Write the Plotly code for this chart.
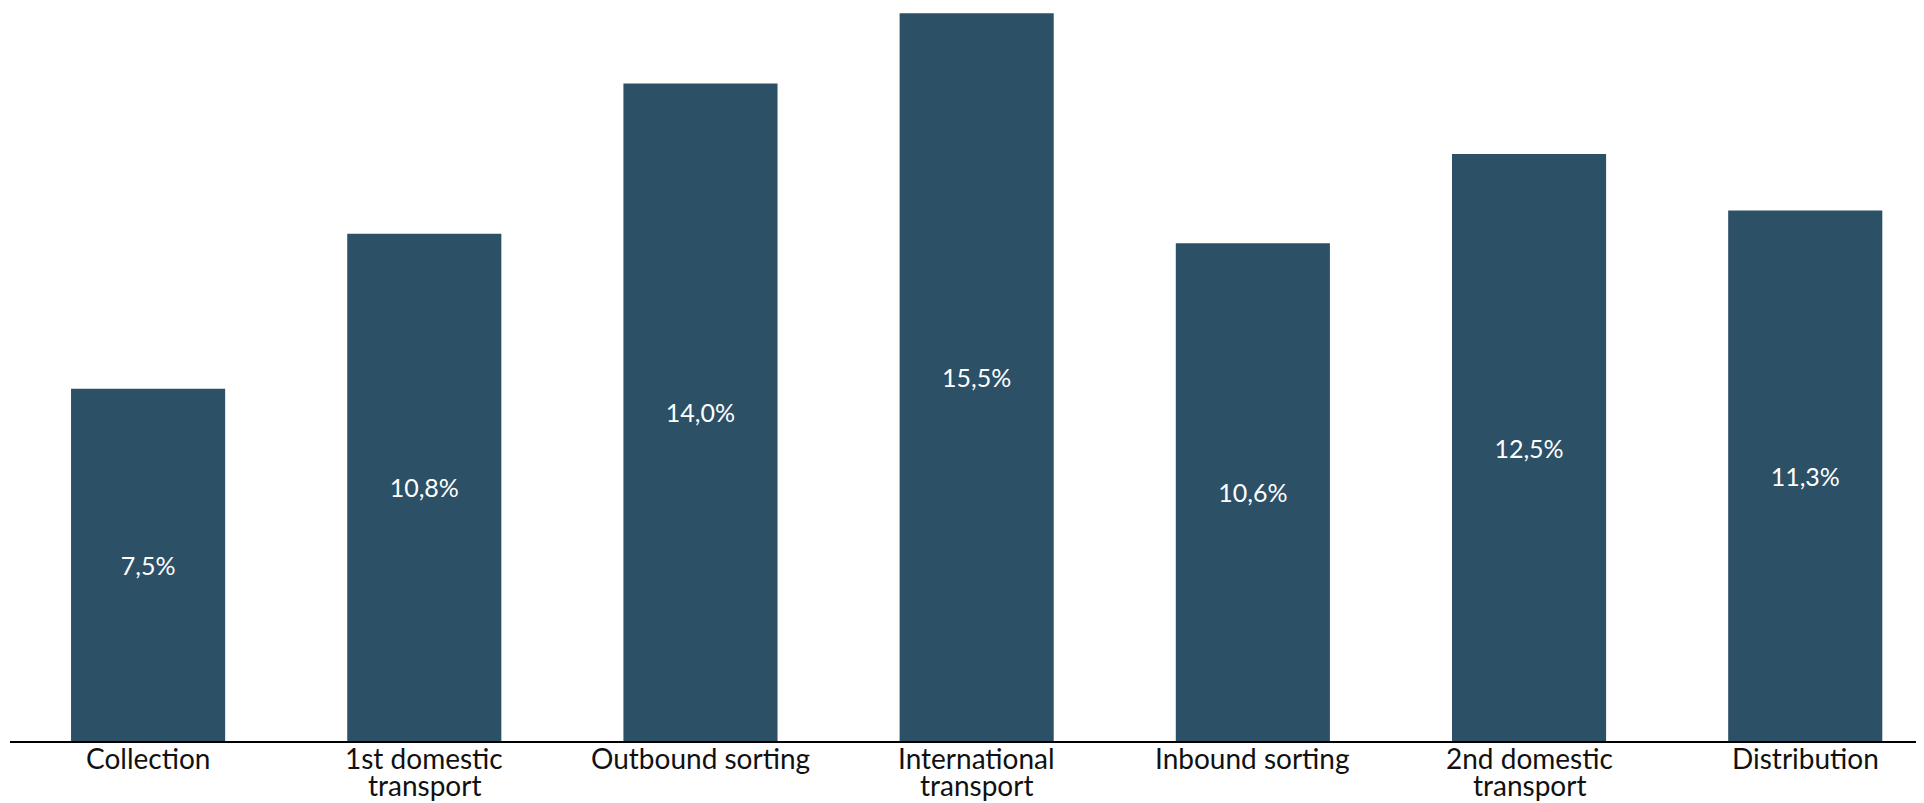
import plotly.graph_objects as go

# dados
categories = ["Collection", "1st domestic transport", "Outbound sorting",
              "International transport", "Inbound sorting",
              "2nd domestic transport", "Distribution"]
line1 = ["Collection", "1st domestic", "Outbound sorting", "International",
         "Inbound sorting", "2nd domestic", "Distribution"]
line2 = ["", "transport", "", "transport", "", "transport", ""]
values = [7.5, 10.8, 14.0, 15.5, 10.6, 12.5, 11.3]
labels = [f"{v:.1f}%".replace(".", ",") for v in values]

FONT = "Lato"

fig = go.Figure()
fig.add_trace(go.Bar(
    x=categories,
    y=values,
    text=labels,
    textposition="inside",
    insidetextanchor="middle",
    textangle=0,
    textfont=dict(color="white", size=25, family=FONT),
    marker=dict(color="#2C5066", line=dict(width=0)),
))

# rótulos das categorias (entrelinha apertada, como no original)
for cat, t1, t2 in zip(categories, line1, line2):
    fig.add_annotation(x=cat, y=0, xref="x", yref="y", text=t1,
                       showarrow=False, yanchor="top", yshift=2,
                       font=dict(size=28, family=FONT, color="#111"))
    if t2:
        fig.add_annotation(x=cat, y=0, xref="x", yref="y", text=t2,
                           showarrow=False, yanchor="top", yshift=-25,
                           font=dict(size=28, family=FONT, color="#111"))

fig.update_layout(
    width=1916, height=795,
    margin=dict(l=2, r=0, t=0, b=62),
    plot_bgcolor="white", paper_bgcolor="white",
    bargap=0.442,
    showlegend=False,
    font=dict(family=FONT, size=28, color="#111"),
)
fig.update_xaxes(showline=True, linecolor="black", linewidth=2, ticks="",
                 showticklabels=False, range=[-0.5, 6.43])
fig.update_yaxes(visible=False, range=[0, 15.61])

fig.write_html("out.html")
